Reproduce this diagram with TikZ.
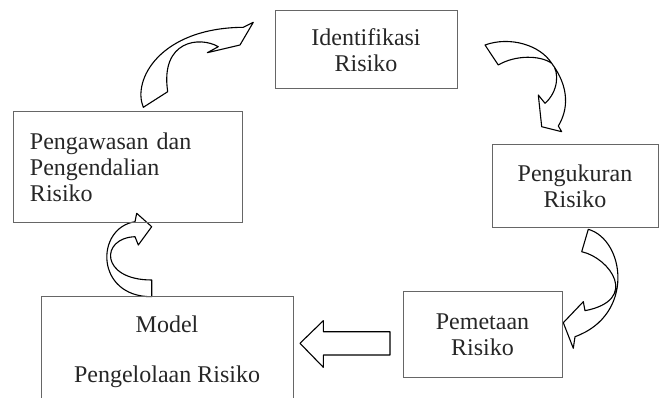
\documentclass[tikz,border=0pt]{standalone}
\usepackage{fontspec}
\setmainfont{Liberation Serif}
\usepackage{tikz}
\tikzstyle{box} = [ rectangle, draw = black!60, line width = 1pt, %
                    align = center, text = black!85, %
                    font = \fontsize{24}{26}\selectfont ]
\tikzstyle{bentarrow} = [draw = black, fill = white, line width = 1.1pt, %
                         line join = round]

\begin{document}
\begin{tikzpicture}[x = 1pt, y = -1pt]
      \useasboundingbox (0,0) rectangle (659,398);
      % Arrows
      \draw [bentarrow] (143.3,107.3) .. controls (132,80) and (160,28) .. (243.3,27.3)
        -- (253.3,22.3) -- (240,45) -- (207.3,52.7) -- (218.3,46.7)
        .. controls (200,36) and (160,40) .. (167.7,91.7) -- cycle;
      \draw [bentarrow] (485,45) .. controls (510,36) and (540,45) .. (551.7,63.3)
        .. controls (570,88) and (568,110) .. (558.3,126)
        -- (561.7,131.7) -- (541.7,126.7) -- (538.3,95) -- (545,103.3)
        .. controls (558,92) and (560,72) .. (551.7,63.3)
        .. controls (540,55) and (515,55) .. (498.3,65) -- cycle;
      \draw [bentarrow] (588.3,229.3) .. controls (625,240) and (635,315) .. (575,336.7)
        -- (573.3,348.3) -- (563.3,322.7) -- (583.3,301.7) -- (585,310.7)
        .. controls (640,300) and (610,258) .. (581.7,251.7) -- cycle;
      \draw [bentarrow] (151.7,296.7) .. controls (95,297) and (95,228) .. (135,221.7)
        -- (136.7,213.3) -- (151.7,226.7) -- (138.3,245) -- (135,236.7)
        .. controls (100,238) and (100,280) .. (151.7,280) -- cycle;
      \draw [bentarrow] (390,331.7) -- (323.3,331.7) -- (323.3,320.7) -- (300,343.3)
        -- (323.3,367.3) -- (323.3,355) -- (390,355) -- cycle;
      % Boxes
      \node (ident) [box, minimum width = 182pt, minimum height = 78pt] %
        at (366,50) {Identifikasi\\Risiko};
      \node (ukur) [box, minimum width = 166pt, minimum height = 83pt] %
        at (575,186.5) {Pengukuran\\Risiko};
      \node (peta) [box, minimum width = 159pt, minimum height = 85pt] %
        at (482.5,334.5) {Pemetaan\\Risiko};
      \node (model) [box, minimum width = 252pt, minimum height = 110pt, %
        anchor = north] at (167,296) {Model\\[24pt]Pengelolaan Risiko};
      \node (awas) [box, align = left, text width = 195pt, inner xsep = 17pt, %
        minimum height = 111pt] at (127.5,167.5) %
        {Pengawasan dan\\Pengendalian\\Risiko};
    \end{tikzpicture}
\end{document}
